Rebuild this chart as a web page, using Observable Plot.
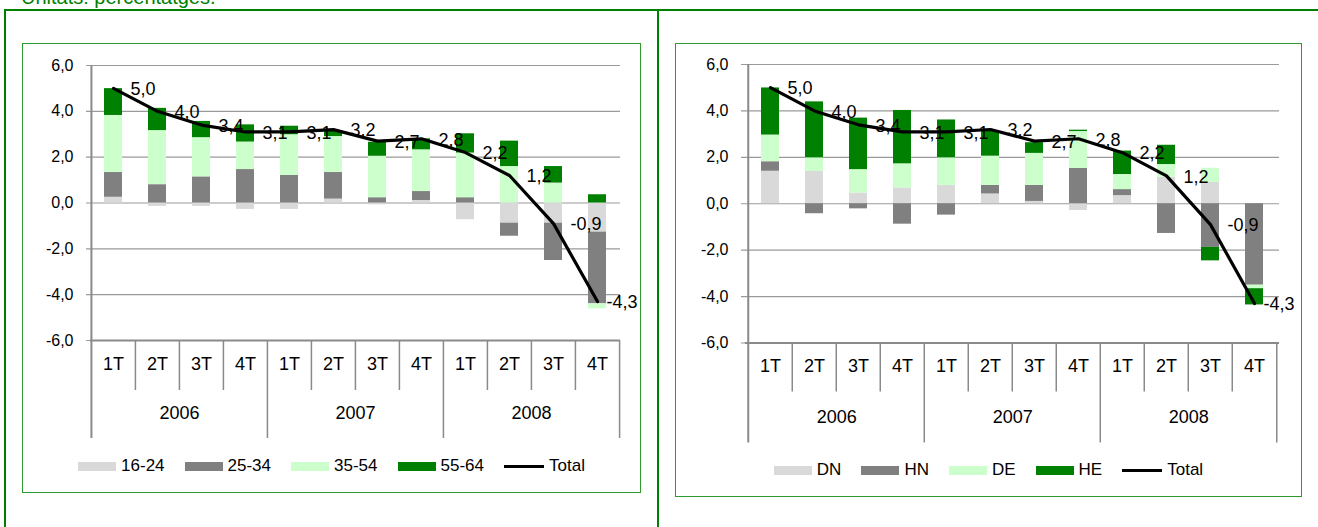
<!DOCTYPE html>
<html><head><meta charset="utf-8">
<script src="https://cdn.jsdelivr.net/npm/d3@7"></script>
<script src="https://cdn.jsdelivr.net/npm/@observablehq/plot@0.6"></script>
<style>
body{margin:0;width:1318px;height:527px;overflow:hidden;background:#fff;position:relative;font-family:"Liberation Sans",Arial,sans-serif}
#units{position:absolute;left:21px;top:-13px;font-size:20px;line-height:20px;color:#008000;white-space:nowrap}
.gl{position:absolute;background:#008000}
.frame{position:absolute;box-sizing:border-box;border:1.5px solid #2f982f;background:#fff}
.frame svg{position:absolute;left:0;top:0}
.legend{position:absolute;left:0;right:0;height:20px;display:flex;justify-content:center;align-items:center;gap:20px;font-size:17px;color:#000}
.item{display:flex;align-items:center;gap:5px}
.sw{width:38px;height:9px}
.ln{width:40px;height:3px;background:#000}
</style></head><body>
<div id="units">Unitats: percentatges.</div>
<div class="gl" style="left:4px;top:8.5px;width:1314px;height:2px"></div>
<div class="gl" style="left:4px;top:8.5px;width:2px;height:520px"></div>
<div class="gl" style="left:657px;top:8.5px;width:2px;height:520px"></div>
<div id="left" class="frame" style="left:22px;top:43px;width:619px;height:450px"></div>
<div id="right" class="frame" style="left:675px;top:43px;width:627px;height:454px"></div>
<script>
// ---- data ----
const years = ["2006", "2007", "2008"];
const quarters = ["1T", "2T", "3T", "4T"];
const yTicks = [-6, -4, -2, 0, 2, 4, 6];
const total = [5.0, 4.0, 3.4, 3.1, 3.1, 3.2, 2.7, 2.8, 2.2, 1.2, -0.9, -4.3];

// left chart: age groups
const ageSeries = ["16-24", "25-34", "35-54", "55-64"];
const age1624 = [0.25, -0.15, -0.15, -0.28, -0.28, 0.17, -0.08, 0.11, -0.73, -0.88, -0.88, -1.27];
const age2534 = [1.08, 0.80, 1.14, 1.46, 1.20, 1.16, 0.23, 0.39, 0.23, -0.57, -1.63, -3.13];
const age3554 = [2.49, 2.36, 1.71, 1.20, 1.78, 1.57, 1.81, 1.82, 1.95, 1.59, 0.87, -0.22];
const age5564 = [1.17, 0.97, 0.71, 0.75, 0.37, 0.25, 0.61, 0.48, 0.84, 1.11, 0.72, 0.36];

// right chart
const grpSeries = ["DN", "HN", "DE", "HE"];
const grpDN = [1.40, 1.39, 0.46, 0.68, 0.79, 0.42, 0.10, -0.29, 0.35, 1.14, 0.92, 0.00];
const grpHN = [0.41, -0.43, -0.22, -0.88, -0.49, 0.37, 0.69, 1.52, 0.26, -1.28, -1.88, -3.51];
const grpDE = [1.15, 0.59, 1.01, 1.04, 1.19, 1.26, 1.38, 1.59, 0.65, 0.55, 0.61, -0.15];
const grpHE = [2.03, 2.41, 2.22, 2.30, 1.63, 1.09, 0.46, 0.06, 1.01, 0.83, -0.58, -0.70];

const colors = ["#d9d9d9", "#808080", "#ccffcc", "#008000"];

// ---- drawing ----
const keys = years.flatMap(y => quarters.map(q => y + "|" + q));
const fmt = v => v.toFixed(1).replace(".", ",").replace("-0,0", "0,0");
const FONT = '"Liberation Sans", Arial, sans-serif';

function drawChart(el, cfg) {
  const {series, values, W, H, mL, mR, mT, mB, qLab, yLab, qSep, ySep, legendTop} = cfg;
  const bw = (W - mL - mR) / keys.length;
  const plotH = H - mT - mB;
  const rows = series.flatMap((s, si) => values[si].map((v, i) => ({key: keys[i], series: s, value: v})));
  const tot = total.map((t, i) => ({key: keys[i], total: t}));
  const yearStarts = years.map(y => y + "|1T");
  const inner = keys.filter(k => !k.endsWith("|1T"));
  const axisColor = "#8a8a8a", gridColor = "#9a9a9a";
  const svg = Plot.plot({
    width: W, height: H, marginLeft: mL, marginRight: mR, marginTop: mT, marginBottom: mB,
    x: {type: "band", domain: keys, padding: 0, axis: null},
    y: {domain: [-6, 6], axis: null},
    color: {domain: series, range: colors},
    style: {fontFamily: FONT, overflow: "visible", background: "transparent"},
    marks: [
      Plot.ruleY(yTicks, {y: d => d, stroke: gridColor, strokeWidth: 1.2, insetLeft: -4}),
      Plot.barY(rows, {x: "key", y: "value", fill: "series", insetLeft: 13, insetRight: 13}),
      Plot.ruleX(inner, {x: d => d, dx: -bw / 2, insetTop: plotH, insetBottom: -qSep, stroke: axisColor, strokeWidth: 1.5}),
      Plot.ruleX(yearStarts.slice(1), {x: d => d, dx: -bw / 2, insetTop: plotH, insetBottom: -ySep, stroke: axisColor, strokeWidth: 1.5}),
      Plot.ruleX([keys[0]], {x: d => d, dx: -bw / 2, insetTop: 0, insetBottom: -ySep, stroke: axisColor, strokeWidth: 2}),
      Plot.ruleX([keys[keys.length - 1]], {x: d => d, dx: bw / 2, insetTop: plotH, insetBottom: -ySep, stroke: axisColor, strokeWidth: 1.5}),
      Plot.ruleY([-6], {y: d => d, stroke: axisColor, strokeWidth: 2}),
      Plot.text(yTicks, {y: d => d, text: d => fmt(d), frameAnchor: "left", dx: -17, textAnchor: "end", fontSize: 16, fill: "#000"}),
      Plot.line(tot, {x: "key", y: "total", stroke: "#000", strokeWidth: 3.2, curve: "linear", strokeLinejoin: "round", strokeLinecap: "round"}),
      Plot.text(tot.slice(0, -1), {x: "key", y: "total", text: d => fmt(d.total), dx: 17, dy: 1, textAnchor: "start", fontSize: 18, fill: "#000"}),
      Plot.text(tot.slice(-1), {x: "key", y: "total", text: d => fmt(d.total), dx: 9, dy: 1, textAnchor: "start", fontSize: 18, fill: "#000"}),
      Plot.text(keys, {x: d => d, text: d => d.split("|")[1], frameAnchor: "bottom", dy: qLab, fontSize: 18, fill: "#000"}),
      Plot.text(years, {x: d => d + "|2T", dx: bw / 2, text: d => d, frameAnchor: "bottom", dy: yLab, fontSize: 18, fill: "#000"})
    ]
  });
  el.appendChild(svg);
  const lg = document.createElement("div");
  lg.className = "legend";
  lg.style.top = legendTop + "px";
  series.forEach((s, i) => {
    const it = document.createElement("div");
    it.className = "item";
    const sw = document.createElement("div");
    sw.className = "sw";
    sw.style.background = colors[i];
    const lab = document.createElement("span");
    lab.textContent = s;
    it.append(sw, lab);
    lg.appendChild(it);
  });
  const it = document.createElement("div");
  it.className = "item";
  const ln = document.createElement("div");
  ln.className = "ln";
  const lab = document.createElement("span");
  lab.textContent = "Total";
  it.append(ln, lab);
  lg.appendChild(it);
  el.appendChild(lg);
}

drawChart(document.getElementById("left"), {
  series: ageSeries, values: [age1624, age2534, age3554, age5564],
  W: 616, H: 410, mL: 67, mR: 19, mT: 21, mB: 114,
  qLab: 29, yLab: 78, qSep: 50, ySep: 98, legendTop: 412
});
drawChart(document.getElementById("right"), {
  series: grpSeries, values: [grpDN, grpHN, grpDE, grpHE],
  W: 624, H: 410, mL: 69, mR: 21, mT: 20, mB: 111.5,
  qLab: 28.5, yLab: 80, qSep: 49, ySep: 100, legendTop: 416
});
</script>
</body></html>
